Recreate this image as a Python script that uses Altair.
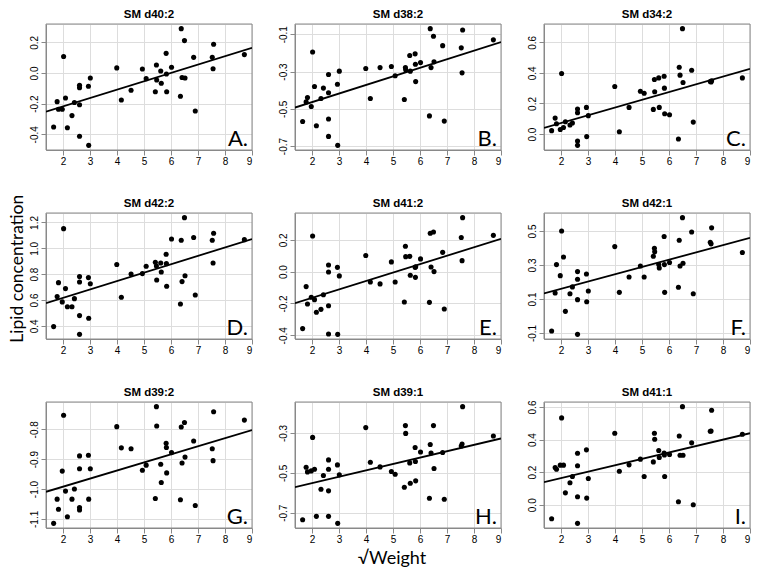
import altair as alt
import pandas as pd

# shared sqrt(weight) values (same animals in every panel)
X = [1.65, 1.78, 1.83, 1.97, 2.02, 2.09, 2.16, 2.33, 2.42, 2.61, 2.61, 2.61, 2.61,
     2.94, 2.95, 3.01, 3.99, 4.16, 4.52, 4.94, 5.08, 5.42, 5.46, 5.47, 5.62, 5.64,
     5.82, 5.83, 5.84, 6.02, 6.35, 6.38, 6.41, 6.50, 6.52, 6.84, 6.90, 7.53, 7.56,
     7.58, 8.72]
X_TICKS = [2, 3, 4, 5, 6, 7, 8, 9]

NAMES = ["SM d40:2", "SM d38:2", "SM d34:2", "SM d42:2", "SM d41:2", "SM d42:1",
         "SM d39:2", "SM d39:1", "SM d41:1"]
LETTERS = ["A.", "B.", "C.", "D.", "E.", "F.", "G.", "H.", "I."]

Y_A = [-0.352, -0.187, -0.237, -0.237, 0.107, -0.163, -0.357, -0.278, -0.193,
       -0.08, -0.096, -0.207, -0.413, -0.087, -0.472, -0.033, 0.033, -0.176, -0.113,
       0.026, -0.037, -0.122, 0.052, -0.046, 0.013, -0.067, 0.128, -0.007, -0.122,
       0.037, -0.152, 0.289, -0.03, 0.211, -0.033, 0.102, -0.248, 0.102, 0.028,
       0.187, 0.12]
Y_B = [-0.568, -0.463, -0.439, -0.488, -0.195, -0.38, -0.591, -0.445, -0.389,
       -0.316, -0.414, -0.555, -0.648, -0.368, -0.696, -0.298, -0.284, -0.445, -0.279,
       -0.273, -0.323, -0.45, -0.279, -0.291, -0.214, -0.298, -0.205, -0.261, -0.354,
       -0.252, -0.538, -0.07, -0.279, -0.111, -0.248, -0.161, -0.566, -0.173, -0.307,
       -0.077, -0.13]
Y_C = [0.022, 0.104, 0.067, 0.03, 0.396, 0.043, 0.08, 0.059, 0.072,
       0.163, 0.139, -0.046, -0.074, 0.174, -0.017, 0.12, 0.311, 0.015, 0.174,
       0.28, 0.267, 0.161, 0.357, 0.276, 0.367, 0.174, 0.378, 0.3, 0.133,
       0.126, -0.033, 0.437, 0.385, 0.689, 0.337, 0.417, 0.078, 0.343, 0.34,
       0.348, 0.367]
Y_D = [0.394, 0.626, 0.734, 0.585, 1.152, 0.688, 0.548, 0.548, 0.61,
       0.781, 0.739, 0.479, 0.334, 0.773, 0.458, 0.726, 0.874, 0.621, 0.801,
       0.804, 0.861, 0.892, 0.863, 0.755, 0.886, 0.817, 0.954, 0.881, 0.706,
       1.072, 0.569, 1.062, 0.742, 1.237, 0.788, 1.083, 0.639, 1.062, 0.886,
       1.116, 1.067]
Y_E = [-0.358, -0.094, -0.203, -0.161, 0.224, -0.176, -0.255, -0.237, -0.145,
       0.042, -0.002, -0.214, -0.392, 0.027, -0.394, -0.027, 0.101, -0.065, -0.077,
       0.061, -0.065, -0.191, 0.159, 0.094, 0.096, -0.023, 0.027, -0.036, 0.03,
       0.08, -0.193, 0.241, 0.029, 0.249, 0.0, 0.121, -0.235, 0.214, 0.069,
       0.339, 0.228]
Y_F = [-0.088, 0.135, 0.302, 0.237, 0.5, 0.347, 0.027, 0.131, 0.171,
       0.261, 0.216, 0.096, -0.108, 0.247, 0.084, 0.147, 0.408, 0.139, 0.229,
       0.294, 0.229, 0.351, 0.398, 0.378, 0.302, 0.282, 0.467, 0.302, 0.139,
       0.314, 0.169, 0.445, 0.294, 0.578, 0.31, 0.494, 0.131, 0.433, 0.424,
       0.518, 0.373]
Y_G = [-1.115, -1.034, -1.068, -0.94, -0.753, -1.007, -1.093, -1.034, -1.0,
       -0.889, -0.932, -1.062, -1.07, -0.887, -1.034, -0.932, -0.791, -0.862, -0.865,
       -0.937, -0.92, -1.032, -0.724, -0.789, -0.917, -0.978, -0.847, -0.861, -0.946,
       -0.878, -1.036, -0.792, -0.913, -0.777, -0.893, -0.839, -1.055, -0.865, -0.905,
       -0.741, -0.769]
Y_H = [-0.735, -0.472, -0.495, -0.49, -0.322, -0.482, -0.718, -0.582, -0.513,
       -0.435, -0.482, -0.59, -0.718, -0.46, -0.753, -0.51, -0.273, -0.447, -0.47,
       -0.493, -0.507, -0.572, -0.263, -0.302, -0.45, -0.552, -0.373, -0.443, -0.54,
       -0.395, -0.627, -0.358, -0.4, -0.263, -0.478, -0.398, -0.632, -0.365, -0.355,
       -0.168, -0.315]
Y_I = [-0.086, 0.229, 0.218, 0.243, 0.533, 0.243, 0.073, 0.135, 0.173,
       0.316, 0.239, 0.049, -0.114, 0.337, 0.041, 0.161, 0.439, 0.206, 0.245,
       0.28, 0.173, 0.263, 0.439, 0.402, 0.333, 0.29, 0.318, 0.306, 0.173,
       0.308, 0.018, 0.422, 0.304, 0.602, 0.304, 0.38, 0.0, 0.451, 0.453,
       0.58, 0.433]
Y_ALL = [Y_A, Y_B, Y_C, Y_D, Y_E, Y_F, Y_G, Y_H, Y_I]

Y_TICKS = [
    [-0.4, -0.2, 0.0, 0.2],
    [-0.7, -0.5, -0.3, -0.1],
    [0.0, 0.2, 0.4, 0.6],
    [0.4, 0.6, 0.8, 1.0, 1.2],
    [-0.4, -0.2, 0.0, 0.2],
    [-0.1, 0.1, 0.3, 0.5],
    [-1.1, -1.0, -0.9, -0.8],
    [-0.7, -0.5, -0.3],
    [0.0, 0.2, 0.4, 0.6],
]

W, H = 206, 126
LABEL_FONT = "Liberation Sans"
FRAME = "#8a8a8a"


def ext(vals):
    lo, hi = min(vals), max(vals)
    r = hi - lo
    return [lo - 0.04 * r, hi + 0.04 * r]


XDOM = ext(X)


def panel(name, letter, ys, yticks):
    df = pd.DataFrame({"x": X, "y": ys})
    xenc = alt.X("x:Q", title=None,
                 scale=alt.Scale(domain=XDOM, nice=False, zero=False),
                 axis=alt.Axis(values=X_TICKS, labelPadding=1.5))
    yenc = alt.Y("y:Q", title=None,
                 scale=alt.Scale(domain=ext(ys), nice=False, zero=False),
                 axis=alt.Axis(values=yticks, labelAngle=270, labelAlign="center",
                               labelBaseline="bottom", labelPadding=2,
                               labelExpr="replace(format(datum.value, '.1f'), '\u2212', '-')"))
    base = alt.Chart(df)
    pts = base.mark_circle(size=26, color="black", opacity=1).encode(x=xenc, y=yenc)
    line = base.transform_regression("x", "y", extent=XDOM).mark_line(
        color="black", strokeWidth=1.8, clip=True).encode(x=xenc, y=yenc)
    one = alt.Chart(pd.DataFrame({"t": [letter], "n": [name]}))
    frame = one.mark_rect(fill=None, stroke=FRAME, strokeWidth=1).encode(
        x=alt.value(0), x2=alt.value(W), y=alt.value(0), y2=alt.value(H))
    lab = one.mark_text(
        font="Lato", fontSize=22, align="right", baseline="alphabetic", color="black"
    ).encode(x=alt.value(W - 4), y=alt.value(H - 4.5), text="t:N")
    ttl = one.mark_text(
        font=LABEL_FONT, fontSize=11.5, fontWeight="bold", align="center",
        baseline="alphabetic", color="black"
    ).encode(x=alt.value(W / 2), y=alt.value(-6), text="n:N")
    return alt.layer(frame, pts, line, lab, ttl).properties(width=W, height=H)


panels = [panel(n, l, y, t) for n, l, y, t in zip(NAMES, LETTERS, Y_ALL, Y_TICKS)]

grid = alt.concat(
    *panels, columns=3, spacing={"row": 63, "column": 43}, bounds="flush",
    title=alt.TitleParams("Lipid concentration", orient="left", font="Lato",
                          fontSize=17.5, fontWeight="normal", color="black", offset=2,
                          anchor="middle", dx=8),
)

chart = alt.vconcat(
    grid,
    title=alt.TitleParams("\u221aWeight", orient="bottom", font="Lato", fontSize=18,
                          fontWeight="normal", color="black", offset=5, anchor="middle",
                          dx=12),
    padding=0,
).configure_view(stroke=None).configure_axis(
    domain=False, grid=False, tickColor=FRAME, tickSize=3.5, tickWidth=1,
    labelFont=LABEL_FONT, labelFontSize=11, labelColor="#444444",
).configure(background="white")

chart.save("out.html", embed_options={"renderer": "svg", "actions": False})
